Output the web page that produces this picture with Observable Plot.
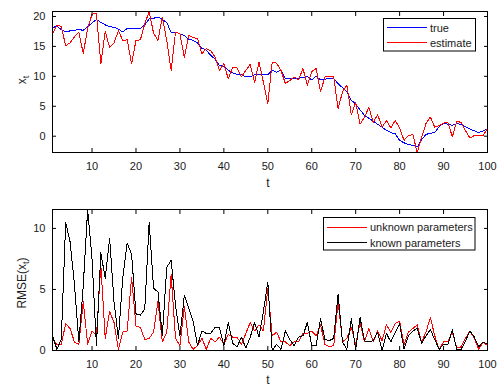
<!DOCTYPE html>
<html><head><meta charset="utf-8">
<script src="https://cdn.jsdelivr.net/npm/d3@7"></script>
<script src="https://cdn.jsdelivr.net/npm/@observablehq/plot@0.6"></script>
<style>
body{margin:0;background:#fff;}
#chart{position:relative;width:502px;height:390px;}
#chart svg{position:absolute;left:0;}
</style></head><body><div id="chart"></div>
<script>
// ---- data ----
const trueX = [18.1,18.4,17.8,17.4,17.6,17.7,17.8,17.7,18.3,18.9,
  19.5,19.0,18.6,18.3,18.2,17.9,17.4,18.0,18.0,18.0,
  18.0,18.6,19.6,19.7,19.9,19.5,19.0,17.3,17.4,17.1,
  16.8,16.2,16.0,15.6,14.7,14.4,13.5,12.9,11.8,11.7,
  11.0,10.6,10.3,10.3,9.9,9.9,10.3,10.3,10.3,10.3,
  11.0,10.7,11.0,9.6,9.6,9.6,9.7,9.8,10.0,9.4,
  10.0,9.4,9.5,9.7,9.6,8.8,8.1,7.4,6.0,5.4,
  4.4,3.5,3.0,2.5,2.0,1.5,1.0,0.6,0.4,-0.7,
  -1.1,-1.4,-1.5,-1.8,-0.6,0.3,0.5,0.6,1.6,2.2,
  2.0,1.8,2.1,2.0,1.6,1.2,0.9,0.6,0.9,1.2];
const estimateX = [17.1,18.6,18.3,15.1,15.6,16.6,17.4,13.8,18.0,20.4,
  20.5,12.1,17.5,14.8,15.6,17.6,16.0,16.1,12.1,16.0,
  16.1,18.8,20.83,17.2,16.0,19.9,16.0,11.0,17.4,17.1,
  13.2,16.8,16.5,16.3,13.8,14.6,14.3,13.2,11.0,12.1,
  9.6,11.5,11.4,9.9,11.0,12.0,9.0,12.4,9.0,5.4,
  12.4,12.2,11.0,8.8,9.3,9.9,9.4,11.3,8.5,10.8,
  11.3,7.4,9.9,9.9,9.9,4.6,7.4,8.5,3.6,5.6,
  2.0,3.2,4.8,2.3,3.6,1.5,2.6,1.4,2.6,1.4,
  -0.7,0.1,0.3,-2.72,-0.2,2.1,3.2,1.5,1.8,2.2,
  2.3,-0.1,2.5,2.3,0.9,-0.3,0.1,0.1,0.1,1.3];
const rmseUnknown = [1.0,0.5,0.5,2.2,1.8,0.7,0.5,4.0,0.5,1.6,
  1.2,7.0,1.0,3.2,2.3,0.1,1.5,1.6,6.0,2.0,
  1.9,0.9,1.0,1.5,4.0,0.7,1.5,6.2,1.0,0.4,
  3.6,0.7,0.1,0.4,1.0,0.1,1.0,0.7,1.1,0.5,
  1.3,1.1,1.1,0.5,1.4,2.3,1.6,2.1,1.6,5.1,
  1.2,1.5,0.7,0.7,0.4,0.7,0.7,1.4,1.4,1.6,
  1.2,2.1,0.5,0.3,0.4,4.0,0.7,1.0,1.9,0.5,
  2.3,0.7,1.8,0.7,1.6,0.8,2.1,1.5,2.2,2.4,
  0.5,1.5,1.8,2.1,0.7,1.5,2.7,1.2,0.1,0.7,
  0.7,1.5,0.2,0.3,1.0,1.6,1.0,0.1,0.7,0.4];
const rmseKnown = [1.2,0.1,0.9,10.5,8.9,5.4,0.7,5.3,11.55,7.5,
  0.4,8.0,5.9,9.2,4.0,1.0,6.0,8.8,7.9,3.0,
  2.9,3.4,10.5,5.1,4.8,1.2,6.8,7.4,3.7,1.2,
  4.5,3.5,2.4,0.4,1.6,1.4,1.4,1.9,1.9,0.4,
  2.3,0.6,0.3,1.1,0.2,1.1,2.3,1.1,3.2,5.6,
  0.0,0.5,0.1,1.6,0.9,0.4,1.1,1.2,2.3,0.4,
  0.4,2.6,0.9,0.8,1.0,4.6,0.7,0.1,2.6,0.1,
  2.7,0.8,0.7,0.8,1.5,0.0,1.4,0.7,1.5,2.2,
  0.1,1.2,1.6,1.8,0.6,1.2,1.7,0.9,0.1,0.5,
  0.5,1.7,0.1,0.1,0.8,1.6,1.1,0.3,0.7,0.5];
const xTicks = [10,20,30,40,50,60,70,80,90,100];
const yTicksTop = [0,5,10,15,20];
const yTicksBottom = [0,5,10];
const topLegend = ["true","estimate"];
const bottomLegend = ["unknown parameters","known parameters"];

// ---- styles ----
const FONT = '"Liberation Sans", Arial, sans-serif';
const TXT = "#1a1a1a";
const W = 502, H = 195;

function panel(series, yTicks, marginTop, marginBottom) {
  const all = series.flatMap(s => s.values);
  const n = series[0].values.length;
  const tVals = Array.from({length: n}, (_, i) => i + 1);
  return Plot.plot({
    width: W, height: H,
    marginLeft: 52, marginRight: 15, marginTop, marginBottom,
    style: {background: "white", fontFamily: FONT, fontSize: "11px", color: TXT, overflow: "visible"},
    x: {domain: d3.extent(tVals)},
    y: {domain: d3.extent(all)},
    marks: [
      ...series.map(s => Plot.lineY(s.values, {x: (d, i) => tVals[i], y: d => d, stroke: s.color, strokeWidth: 1, shapeRendering: "crispEdges"})),
      Plot.frame({stroke: "#000", strokeWidth: 1}),
      Plot.axisX(xTicks, {anchor: "bottom", tickSize: 0, tickPadding: 10, label: null}),
      Plot.axisX(xTicks, {anchor: "bottom", tickSize: 4, dy: -4, tickFormat: () => "", label: null, stroke: "#000"}),
      Plot.axisX(xTicks, {anchor: "top", tickSize: 4, dy: 4, tickFormat: () => "", label: null, stroke: "#000"}),
      Plot.axisY(yTicks, {anchor: "left", tickSize: 0, tickPadding: 7, label: null}),
      Plot.axisY(yTicks, {anchor: "left", tickSize: 4, dx: 4, tickFormat: () => "", label: null, stroke: "#000"}),
      Plot.axisY(yTicks, {anchor: "right", tickSize: 4, dx: -4, tickFormat: () => "", label: null, stroke: "#000"})
    ]
  });
}

function addText(svg, x, y, str, sub, opts = {}) {
  const t = svg.append("text").attr("x", x).attr("y", y)
    .attr("font-family", FONT).attr("font-size", opts.size || 12).attr("fill", TXT)
    .attr("text-anchor", opts.anchor || "start");
  if (opts.rotate) t.attr("transform", `rotate(-90 ${x} ${y})`);
  t.append("tspan").text(str);
  if (sub) {
    t.append("tspan").attr("font-size", (opts.size || 12) * 0.75).attr("dy", 3).text(sub);
    if (opts.tail) t.append("tspan").attr("dy", -3).text(opts.tail);
  }
  return t;
}

function legend(svg, box, items, colors, textX, baselines, lineYs) {
  svg.append("rect").attr("x", box[0]).attr("y", box[1]).attr("width", box[2]).attr("height", box[3])
    .attr("fill", "white").attr("stroke", "#000").attr("stroke-width", 1);
  items.forEach((label, i) => {
    svg.append("line").attr("x1", box[0] + 3.5).attr("x2", textX - 3).attr("y1", lineYs[i]).attr("y2", lineYs[i])
      .attr("stroke", colors[i]).attr("stroke-width", 1).attr("shape-rendering", "crispEdges");
    svg.append("text").attr("x", textX).attr("y", baselines[i]).attr("font-family", FONT)
      .attr("text-anchor", "start").attr("font-size", 11).attr("fill", TXT).text(label);
  });
}

const root = document.getElementById("chart");

// top panel
const p1 = panel([
  {values: trueX, color: "#0000ff"},
  {values: estimateX, color: "#ff0000"}
], yTicksTop, 11, 43);
p1.style.top = "0px";
root.appendChild(p1);
const s1 = d3.select(p1);
addText(s1, 268, 186.5, "t", null, {anchor: "middle", size: 12});
addText(s1, 25.5, 80, "x", "t", {anchor: "middle", size: 12, rotate: true});
legend(s1, [383.5, 18.5, 92, 32.5], topLegend, ["#0000ff", "#ff0000"], 430, [31.5, 47], [27.5, 42.5]);

// bottom panel
const p2 = panel([
  {values: rmseUnknown, color: "#ff0000"},
  {values: rmseKnown, color: "#000000"}
], yTicksBottom, 14, 40);
p2.style.top = "195px";
root.appendChild(p2);
const s2 = d3.select(p2);
addText(s2, 268, 189, "t", null, {anchor: "middle", size: 12});
addText(s2, 25.5, 88, "RMSE(x", "t", {anchor: "middle", size: 12, rotate: true, tail: ")"});
legend(s2, [323.5, 22.5, 151.5, 32.5], bottomLegend, ["#ff0000", "#000000"], 370, [36, 51.5], [32.5, 47.5]);
</script></body></html>
